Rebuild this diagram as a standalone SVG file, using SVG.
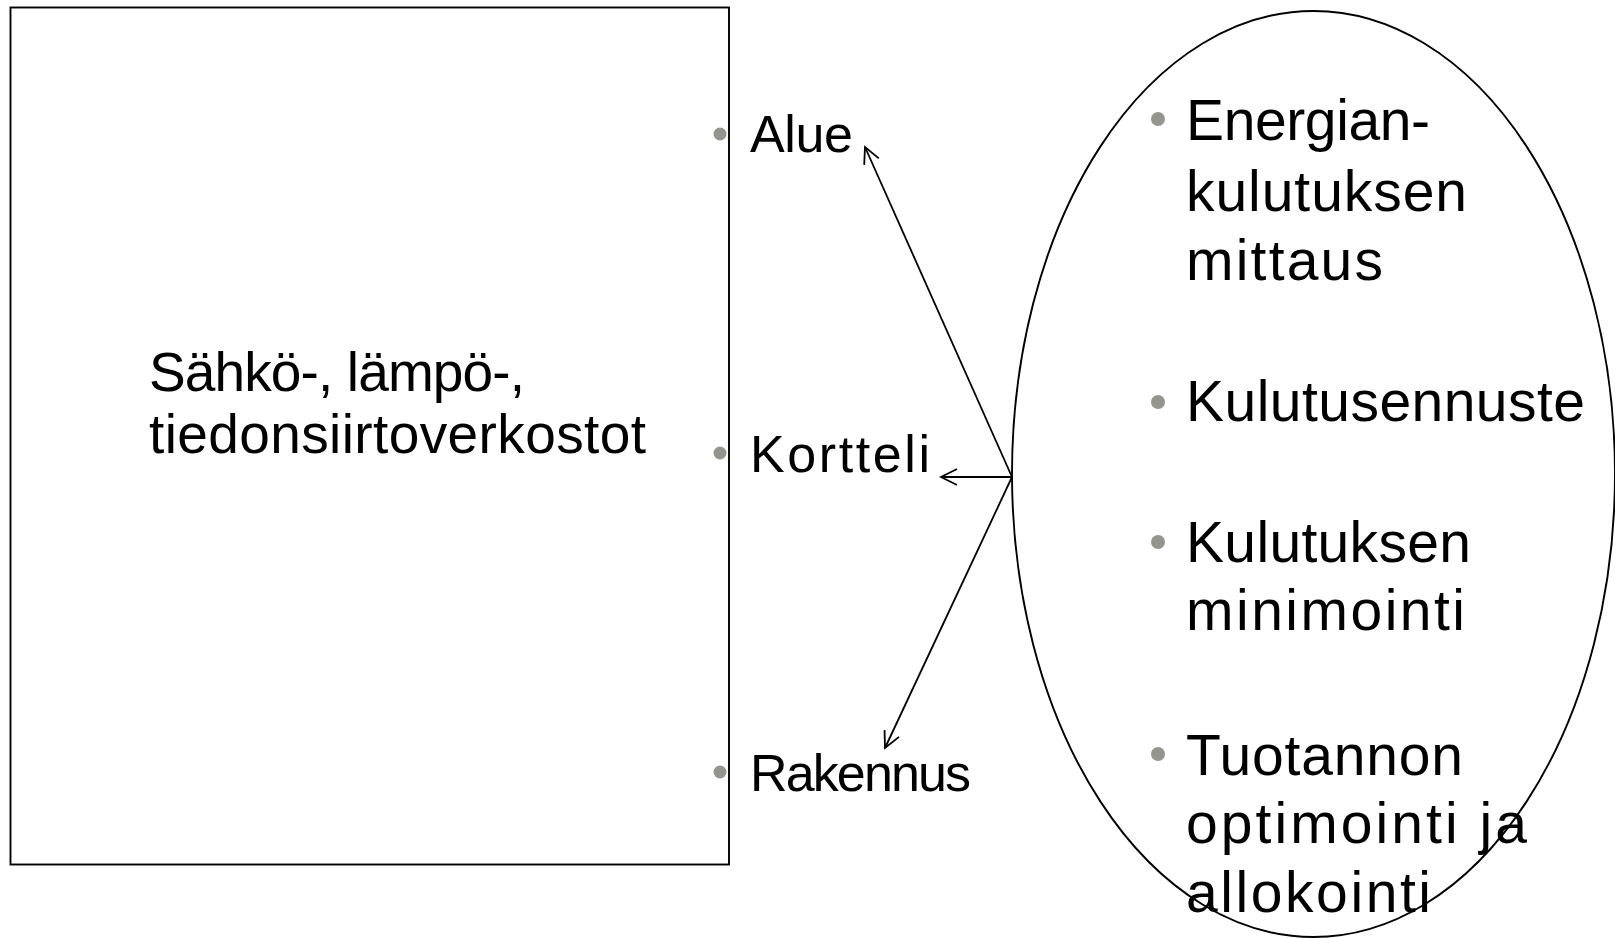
<svg xmlns="http://www.w3.org/2000/svg" width="1615" height="938" viewBox="0 0 1615 938">
  <defs>
    <style>
      .shape { fill: none; stroke: #000; stroke-width: 1.9; }
      .conn { fill: none; stroke: #000; stroke-width: 1.8; }
      .lbl { font-family: "Liberation Sans", Arial, sans-serif; fill: #000; }
      .small { font-size: 52px; }
      .mid { font-size: 55px; }
      .big { font-size: 57px; }
      .dot { fill: #95958f; }
    </style>
    <marker id="open" viewBox="0 0 24 24" refX="22" refY="12" markerWidth="24" markerHeight="24" markerUnits="userSpaceOnUse" orient="auto">
      <path d="M6,4 L22,12 L6,20" fill="none" stroke="#000" stroke-width="1.8"/>
    </marker>
  </defs>
  <rect width="1615" height="938" fill="#fff"/>

  <g id="networks">
    <rect class="shape" x="10.5" y="7.5" width="718.5" height="857"/>
    <text class="lbl mid" x="149" y="391" textLength="376">Sähkö-, lämpö-,</text>
    <text class="lbl mid" x="149" y="453" textLength="497">tiedonsiirtoverkostot</text>
  </g>

  <g id="alue">
    <circle class="dot" cx="720" cy="134" r="6.5"/>
    <text class="lbl small" x="750" y="152" textLength="103">Alue</text>
  </g>
  <g id="kortteli">
    <circle class="dot" cx="720" cy="453" r="6.5"/>
    <text class="lbl small" x="750" y="472" textLength="180">Kortteli</text>
  </g>
  <g id="rakennus">
    <circle class="dot" cx="720" cy="772" r="6.5"/>
    <text class="lbl small" x="750" y="791" textLength="221">Rakennus</text>
  </g>

  <g id="functions">
    <ellipse class="shape" cx="1313.5" cy="474" rx="301.5" ry="463"/>
    <circle class="dot" cx="1158" cy="119" r="7"/>
    <text class="lbl big" x="1186" y="140" textLength="244">Energian-</text>
    <text class="lbl big" x="1186" y="211" textLength="281">kulutuksen</text>
    <text class="lbl big" x="1186" y="280" textLength="197">mittaus</text>
    <circle class="dot" cx="1158" cy="402" r="7"/>
    <text class="lbl big" x="1186" y="421" textLength="399">Kulutusennuste</text>
    <circle class="dot" cx="1158" cy="542" r="7"/>
    <text class="lbl big" x="1186" y="562" textLength="285">Kulutuksen</text>
    <text class="lbl big" x="1186" y="630" textLength="279">minimointi</text>
    <circle class="dot" cx="1158" cy="754" r="7"/>
    <text class="lbl big" x="1186" y="775" textLength="277">Tuotannon</text>
    <text class="lbl big" x="1186" y="843" textLength="341">optimointi ja</text>
    <text class="lbl big" x="1186" y="912" textLength="245">allokointi</text>
  </g>

  <g id="connectors">
    <line class="conn" x1="1012" y1="477" x2="865" y2="147" marker-end="url(#open)"/>
    <line class="conn" x1="1012" y1="477" x2="941" y2="477" marker-end="url(#open)"/>
    <line class="conn" x1="1012" y1="477" x2="885" y2="748" marker-end="url(#open)"/>
  </g>
</svg>
